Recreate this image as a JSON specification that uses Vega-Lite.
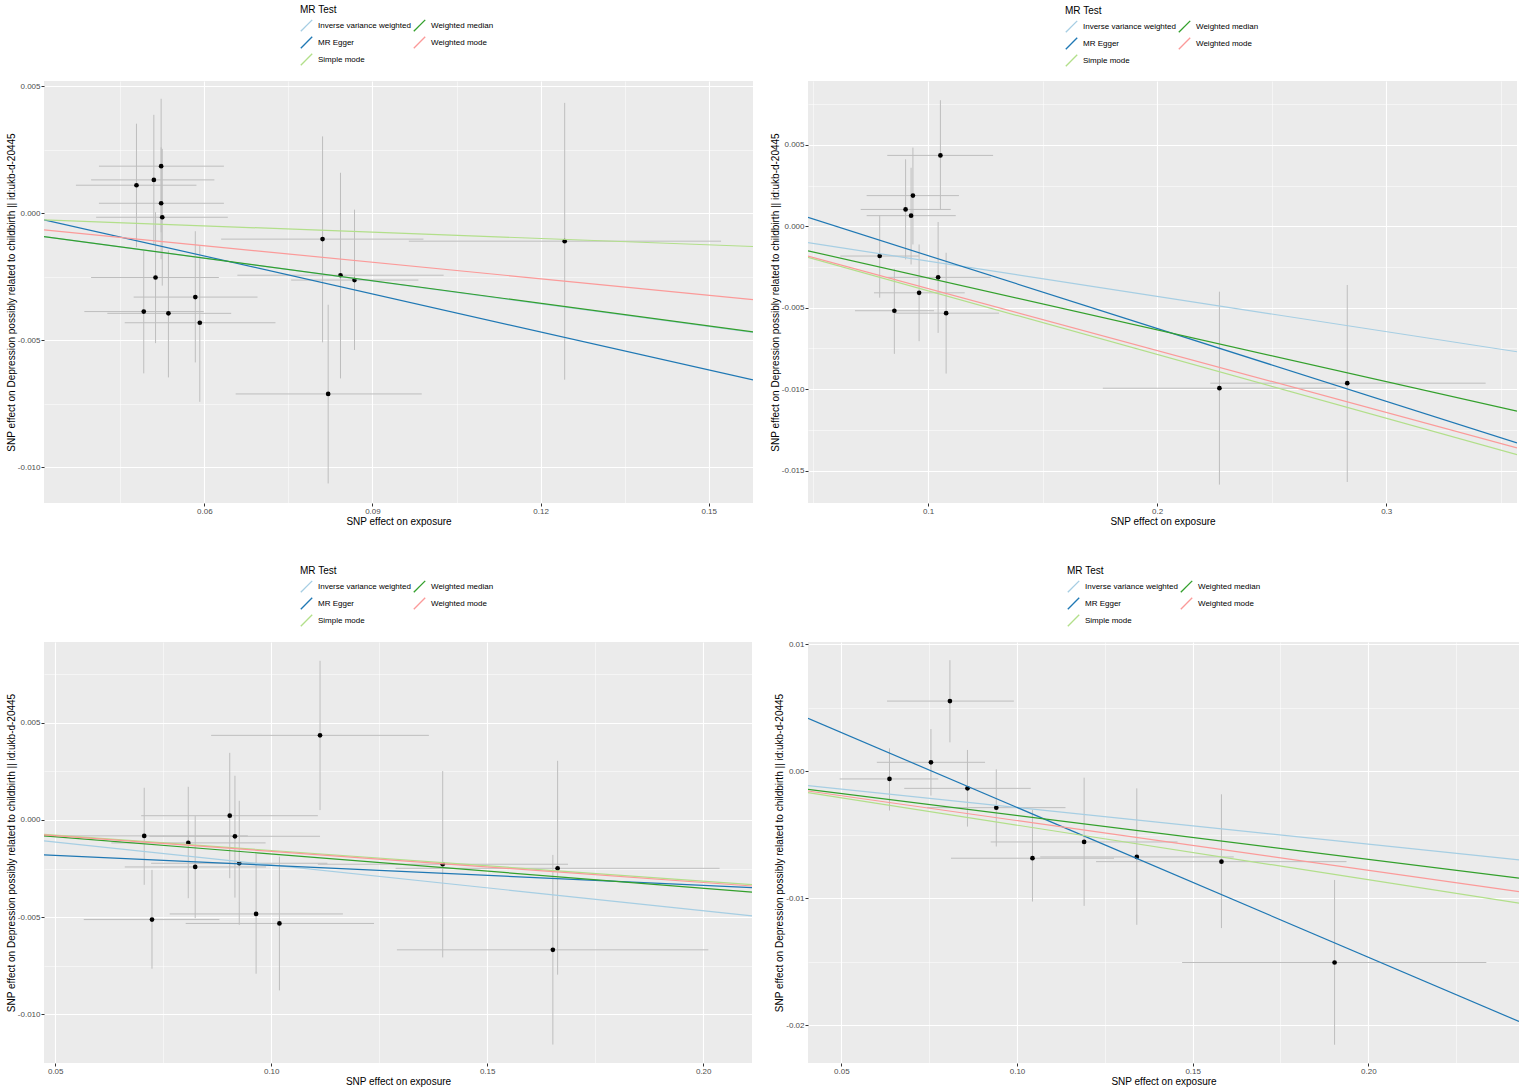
{
  "$schema": "https://vega.github.io/schema/vega-lite/v6.json",
  "background": "white",
  "padding": {"left": 6, "top": 5, "right": 0, "bottom": 2},
  "datasets": {
    "p1": [
      {"bx": 0.0479, "by": 0.00110, "bxlo": 0.0371, "bxhi": 0.0586, "bylo": -0.00134, "byhi": 0.00352},
      {"bx": 0.0510, "by": 0.00131, "bxlo": 0.0398, "bxhi": 0.0618, "bylo": -0.00125, "byhi": 0.00387},
      {"bx": 0.0523, "by": 0.00185, "bxlo": 0.0412, "bxhi": 0.0635, "bylo": -0.00075, "byhi": 0.00450},
      {"bx": 0.0523, "by": 0.00039, "bxlo": 0.0412, "bxhi": 0.0635, "bylo": -0.00181, "byhi": 0.00259},
      {"bx": 0.0525, "by": -0.00016, "bxlo": 0.0407, "bxhi": 0.0642, "bylo": -0.00285, "byhi": 0.00253},
      {"bx": 0.0513, "by": -0.00253, "bxlo": 0.0398, "bxhi": 0.0626, "bylo": -0.00511, "byhi": 0.00004},
      {"bx": 0.0492, "by": -0.00387, "bxlo": 0.0386, "bxhi": 0.0599, "bylo": -0.00630, "byhi": -0.00147},
      {"bx": 0.0536, "by": -0.00394, "bxlo": 0.0427, "bxhi": 0.0648, "bylo": -0.00646, "byhi": -0.00147},
      {"bx": 0.0584, "by": -0.00330, "bxlo": 0.0474, "bxhi": 0.0695, "bylo": -0.00587, "byhi": -0.00071},
      {"bx": 0.0592, "by": -0.00431, "bxlo": 0.0458, "bxhi": 0.0727, "bylo": -0.00742, "byhi": -0.00127},
      {"bx": 0.0811, "by": -0.00102, "bxlo": 0.0630, "bxhi": 0.0991, "bylo": -0.00508, "byhi": 0.00302},
      {"bx": 0.0843, "by": -0.00244, "bxlo": 0.0659, "bxhi": 0.1027, "bylo": -0.00650, "byhi": 0.00159},
      {"bx": 0.0868, "by": -0.00263, "bxlo": 0.0755, "bxhi": 0.0982, "bylo": -0.00538, "byhi": 0.00014},
      {"bx": 0.0821, "by": -0.00711, "bxlo": 0.0656, "bxhi": 0.0988, "bylo": -0.01063, "byhi": -0.00360},
      {"bx": 0.1243, "by": -0.00110, "bxlo": 0.0965, "bxhi": 0.1522, "bylo": -0.00655, "byhi": 0.00434}
    ],
    "l1": [
      {"method": "Inverse variance weighted", "x1": 0.0314, "x2": 0.1579, "y1": -0.00092, "y2": -0.00469},
      {"method": "MR Egger", "x1": 0.0314, "x2": 0.1579, "y1": -0.00026, "y2": -0.00656},
      {"method": "Simple mode", "x1": 0.0314, "x2": 0.1579, "y1": -0.00026, "y2": -0.00131},
      {"method": "Weighted median", "x1": 0.0314, "x2": 0.1579, "y1": -0.00092, "y2": -0.00467},
      {"method": "Weighted mode", "x1": 0.0314, "x2": 0.1579, "y1": -0.00066, "y2": -0.00340}
    ],
    "p2": [
      {"bx": 0.1054, "by": 0.00436, "bxlo": 0.0822, "bxhi": 0.1284, "bylo": 0.00104, "byhi": 0.00775},
      {"bx": 0.0934, "by": 0.00189, "bxlo": 0.0732, "bxhi": 0.1135, "bylo": -0.00111, "byhi": 0.00484},
      {"bx": 0.0902, "by": 0.00104, "bxlo": 0.0706, "bxhi": 0.1099, "bylo": -0.00203, "byhi": 0.00412},
      {"bx": 0.0926, "by": 0.00066, "bxlo": 0.0732, "bxhi": 0.1121, "bylo": -0.00234, "byhi": 0.00360},
      {"bx": 0.0789, "by": -0.00182, "bxlo": 0.0617, "bxhi": 0.0961, "bylo": -0.00438, "byhi": 0.00068},
      {"bx": 0.1044, "by": -0.00313, "bxlo": 0.0822, "bxhi": 0.1274, "bylo": -0.00654, "byhi": 0.00027},
      {"bx": 0.0961, "by": -0.00408, "bxlo": 0.0764, "bxhi": 0.1160, "bylo": -0.00705, "byhi": -0.00111},
      {"bx": 0.0853, "by": -0.00518, "bxlo": 0.0681, "bxhi": 0.1026, "bylo": -0.00783, "byhi": -0.00260},
      {"bx": 0.1079, "by": -0.00533, "bxlo": 0.0851, "bxhi": 0.1310, "bylo": -0.00904, "byhi": -0.00162},
      {"bx": 0.2272, "by": -0.00994, "bxlo": 0.1763, "bxhi": 0.2782, "bylo": -0.01586, "byhi": -0.00401},
      {"bx": 0.2830, "by": -0.00963, "bxlo": 0.2232, "bxhi": 0.3434, "bylo": -0.01570, "byhi": -0.00360}
    ],
    "l2": [
      {"method": "Inverse variance weighted", "x1": 0.0476, "x2": 0.3571, "y1": -0.00100, "y2": -0.00770},
      {"method": "MR Egger", "x1": 0.0476, "x2": 0.3571, "y1": 0.00055, "y2": -0.01330},
      {"method": "Simple mode", "x1": 0.0476, "x2": 0.3571, "y1": -0.00190, "y2": -0.01402},
      {"method": "Weighted median", "x1": 0.0476, "x2": 0.3571, "y1": -0.00150, "y2": -0.01135},
      {"method": "Weighted mode", "x1": 0.0476, "x2": 0.3571, "y1": -0.00182, "y2": -0.01360}
    ],
    "p3": [
      {"bx": 0.1113, "by": 0.00436, "bxlo": 0.0861, "bxhi": 0.1365, "bylo": 0.00051, "byhi": 0.00820},
      {"bx": 0.0904, "by": 0.00022, "bxlo": 0.0699, "bxhi": 0.1108, "bylo": -0.00300, "byhi": 0.00346},
      {"bx": 0.0706, "by": -0.00082, "bxlo": 0.0466, "bxhi": 0.0946, "bylo": -0.00334, "byhi": 0.00166},
      {"bx": 0.0916, "by": -0.00084, "bxlo": 0.0718, "bxhi": 0.1113, "bylo": -0.00400, "byhi": 0.00228},
      {"bx": 0.0808, "by": -0.00118, "bxlo": 0.0630, "bxhi": 0.0987, "bylo": -0.00403, "byhi": 0.00171},
      {"bx": 0.0824, "by": -0.00242, "bxlo": 0.0661, "bxhi": 0.0988, "bylo": -0.00506, "byhi": 0.00020},
      {"bx": 0.0926, "by": -0.00223, "bxlo": 0.0722, "bxhi": 0.1130, "bylo": -0.00540, "byhi": 0.00099},
      {"bx": 0.0724, "by": -0.00513, "bxlo": 0.0566, "bxhi": 0.0880, "bylo": -0.00766, "byhi": -0.00257},
      {"bx": 0.0965, "by": -0.00484, "bxlo": 0.0765, "bxhi": 0.1166, "bylo": -0.00792, "byhi": -0.00175},
      {"bx": 0.1019, "by": -0.00533, "bxlo": 0.0802, "bxhi": 0.1238, "bylo": -0.00878, "byhi": -0.00189},
      {"bx": 0.1397, "by": -0.00228, "bxlo": 0.1108, "bxhi": 0.1687, "bylo": -0.00708, "byhi": 0.00252},
      {"bx": 0.1663, "by": -0.00249, "bxlo": 0.1288, "bxhi": 0.2038, "bylo": -0.00797, "byhi": 0.00305},
      {"bx": 0.1652, "by": -0.00669, "bxlo": 0.1291, "bxhi": 0.2012, "bylo": -0.01157, "byhi": -0.00180}
    ],
    "l3": [
      {"method": "Inverse variance weighted", "x1": 0.0474, "x2": 0.2113, "y1": -0.00108, "y2": -0.00494},
      {"method": "MR Egger", "x1": 0.0474, "x2": 0.2113, "y1": -0.00180, "y2": -0.00348},
      {"method": "Simple mode", "x1": 0.0474, "x2": 0.2113, "y1": -0.00074, "y2": -0.00333},
      {"method": "Weighted median", "x1": 0.0474, "x2": 0.2113, "y1": -0.00082, "y2": -0.00372},
      {"method": "Weighted mode", "x1": 0.0474, "x2": 0.2113, "y1": -0.00077, "y2": -0.00340}
    ],
    "p4": [
      {"bx": 0.0809, "by": 0.00553, "bxlo": 0.0630, "bxhi": 0.0991, "bylo": 0.00228, "byhi": 0.00875},
      {"bx": 0.0755, "by": 0.00071, "bxlo": 0.0601, "bxhi": 0.0909, "bylo": -0.00191, "byhi": 0.00333},
      {"bx": 0.0637, "by": -0.00060, "bxlo": 0.0495, "bxhi": 0.0776, "bylo": -0.00309, "byhi": 0.00181},
      {"bx": 0.0859, "by": -0.00134, "bxlo": 0.0679, "bxhi": 0.1039, "bylo": -0.00435, "byhi": 0.00168},
      {"bx": 0.0941, "by": -0.00286, "bxlo": 0.0744, "bxhi": 0.1138, "bylo": -0.00592, "byhi": 0.00016},
      {"bx": 0.1191, "by": -0.00556, "bxlo": 0.0925, "bxhi": 0.1457, "bylo": -0.01059, "byhi": -0.00050},
      {"bx": 0.1044, "by": -0.00684, "bxlo": 0.0812, "bxhi": 0.1276, "bylo": -0.01025, "byhi": -0.00304},
      {"bx": 0.1341, "by": -0.00674, "bxlo": 0.1066, "bxhi": 0.1617, "bylo": -0.01208, "byhi": -0.00134},
      {"bx": 0.1582, "by": -0.00711, "bxlo": 0.1225, "bxhi": 0.1938, "bylo": -0.01234, "byhi": -0.00181},
      {"bx": 0.1904, "by": -0.01505, "bxlo": 0.1470, "bxhi": 0.2336, "bylo": -0.02152, "byhi": -0.00855}
    ],
    "l4": [
      {"method": "Inverse variance weighted", "x1": 0.0405, "x2": 0.2429, "y1": -0.00113, "y2": -0.00697},
      {"method": "MR Egger", "x1": 0.0405, "x2": 0.2429, "y1": 0.00417, "y2": -0.01969},
      {"method": "Simple mode", "x1": 0.0405, "x2": 0.2429, "y1": -0.00168, "y2": -0.01038},
      {"method": "Weighted median", "x1": 0.0405, "x2": 0.2429, "y1": -0.00142, "y2": -0.00841},
      {"method": "Weighted mode", "x1": 0.0405, "x2": 0.2429, "y1": -0.00155, "y2": -0.00947}
    ]
  },
  "columns": 2,
  "bounds": "flush",
  "spacing": {"row": 139, "column": 55},
  "resolve": {"scale": {"color": "independent"}, "legend": {"color": "independent"}},
  "concat": [
    {
      "width": 709, "height": 422,
      "layer": [
        {"data": {"name": "p1"}, "mark": {"type": "rule", "color": "#BEBEBE", "strokeWidth": 1, "clip": true},
         "encoding": {
           "x": {"field": "bxlo", "type": "quantitative", "title": "SNP effect on exposure",
                 "scale": {"domain": [0.0314, 0.1579], "nice": false, "zero": false},
                 "axis": {"values": [0.045, 0.06, 0.075, 0.09, 0.105, 0.12, 0.135, 0.15], "format": ".2f",
                          "labelExpr": "indexof([0.06,0.09,0.12,0.15], datum.value) >= 0 ? replace(datum.label, '−', '-') : ''",
                          "gridWidth": {"condition": {"test": "indexof([0.06,0.09,0.12,0.15], datum.value) >= 0", "value": 1.1}, "value": 0.5},
                          "tickColor": {"condition": {"test": "indexof([0.06,0.09,0.12,0.15], datum.value) >= 0", "value": "#333333"}, "value": "transparent"}}},
           "x2": {"field": "bxhi"},
           "y": {"field": "by", "type": "quantitative", "title": "SNP effect on Depression possibly related to childbirth || id:ukb-d-20445",
                 "scale": {"domain": [-0.0114, 0.0052], "nice": false, "zero": false},
                 "axis": {"values": [0.005, 0.0025, 0, -0.0025, -0.005, -0.0075, -0.01], "format": ".3f",
                          "labelExpr": "indexof([0.005,0,-0.005,-0.01], datum.value) >= 0 ? replace(datum.label, '−', '-') : ''",
                          "gridWidth": {"condition": {"test": "indexof([0.005,0,-0.005,-0.01], datum.value) >= 0", "value": 1.1}, "value": 0.5},
                          "tickColor": {"condition": {"test": "indexof([0.005,0,-0.005,-0.01], datum.value) >= 0", "value": "#333333"}, "value": "transparent"}}}
         }},
        {"data": {"name": "p1"}, "mark": {"type": "rule", "color": "#BEBEBE", "strokeWidth": 1, "clip": true},
         "encoding": {
           "x": {"field": "bx", "type": "quantitative", "title": "SNP effect on exposure"},
           "y": {"field": "bylo", "type": "quantitative", "title": "SNP effect on Depression possibly related to childbirth || id:ukb-d-20445"},
           "y2": {"field": "byhi"}
         }},
        {"data": {"name": "p1"}, "mark": {"type": "circle", "color": "black", "size": 22, "opacity": 1},
         "encoding": {
           "x": {"field": "bx", "type": "quantitative", "title": "SNP effect on exposure"},
           "y": {"field": "by", "type": "quantitative", "title": "SNP effect on Depression possibly related to childbirth || id:ukb-d-20445"}
         }},
        {"data": {"name": "l1"}, "mark": {"type": "rule", "strokeWidth": 1.2, "clip": true},
         "encoding": {
           "x": {"field": "x1", "type": "quantitative", "title": "SNP effect on exposure"},
           "x2": {"field": "x2"},
           "y": {"field": "y1", "type": "quantitative", "title": "SNP effect on Depression possibly related to childbirth || id:ukb-d-20445"},
           "y2": {"field": "y2"},
           "color": {"field": "method", "type": "nominal",
                     "scale": {"domain": ["Inverse variance weighted", "Weighted median", "MR Egger", "Weighted mode", "Simple mode"],
                               "range": ["#a6cee3", "#33a02c", "#1f78b4", "#fb9a99", "#b2df8a"]},
                     "legend": {"title": "MR Test", "orient": "none", "legendX": 256, "legendY": -76, "columns": 2, "direction": "horizontal"}}
         }}
      ]
    },
    {
      "width": 709, "height": 422,
      "layer": [
        {"data": {"name": "p2"}, "mark": {"type": "rule", "color": "#BEBEBE", "strokeWidth": 1, "clip": true},
         "encoding": {
           "x": {"field": "bxlo", "type": "quantitative", "title": "SNP effect on exposure",
                 "scale": {"domain": [0.0476, 0.3571], "nice": false, "zero": false},
                 "axis": {"values": [0.05, 0.1, 0.15, 0.2, 0.25, 0.3, 0.35], "format": ".1f",
                          "labelExpr": "indexof([0.1,0.2,0.3], datum.value) >= 0 ? replace(datum.label, '−', '-') : ''",
                          "gridWidth": {"condition": {"test": "indexof([0.1,0.2,0.3], datum.value) >= 0", "value": 1.1}, "value": 0.5},
                          "tickColor": {"condition": {"test": "indexof([0.1,0.2,0.3], datum.value) >= 0", "value": "#333333"}, "value": "transparent"}}},
           "x2": {"field": "bxhi"},
           "y": {"field": "by", "type": "quantitative", "title": "SNP effect on Depression possibly related to childbirth || id:ukb-d-20445",
                 "scale": {"domain": [-0.01699, 0.00893], "nice": false, "zero": false},
                 "axis": {"values": [0.0075, 0.005, 0.0025, 0, -0.0025, -0.005, -0.0075, -0.01, -0.0125, -0.015], "format": ".3f",
                          "labelExpr": "indexof([0.005,0,-0.005,-0.01,-0.015], datum.value) >= 0 ? replace(datum.label, '−', '-') : ''",
                          "gridWidth": {"condition": {"test": "indexof([0.005,0,-0.005,-0.01,-0.015], datum.value) >= 0", "value": 1.1}, "value": 0.5},
                          "tickColor": {"condition": {"test": "indexof([0.005,0,-0.005,-0.01,-0.015], datum.value) >= 0", "value": "#333333"}, "value": "transparent"}}}
         }},
        {"data": {"name": "p2"}, "mark": {"type": "rule", "color": "#BEBEBE", "strokeWidth": 1, "clip": true},
         "encoding": {
           "x": {"field": "bx", "type": "quantitative", "title": "SNP effect on exposure"},
           "y": {"field": "bylo", "type": "quantitative", "title": "SNP effect on Depression possibly related to childbirth || id:ukb-d-20445"},
           "y2": {"field": "byhi"}
         }},
        {"data": {"name": "p2"}, "mark": {"type": "circle", "color": "black", "size": 22, "opacity": 1},
         "encoding": {
           "x": {"field": "bx", "type": "quantitative", "title": "SNP effect on exposure"},
           "y": {"field": "by", "type": "quantitative", "title": "SNP effect on Depression possibly related to childbirth || id:ukb-d-20445"}
         }},
        {"data": {"name": "l2"}, "mark": {"type": "rule", "strokeWidth": 1.2, "clip": true},
         "encoding": {
           "x": {"field": "x1", "type": "quantitative", "title": "SNP effect on exposure"},
           "x2": {"field": "x2"},
           "y": {"field": "y1", "type": "quantitative", "title": "SNP effect on Depression possibly related to childbirth || id:ukb-d-20445"},
           "y2": {"field": "y2"},
           "color": {"field": "method", "type": "nominal",
                     "scale": {"domain": ["Inverse variance weighted", "Weighted median", "MR Egger", "Weighted mode", "Simple mode"],
                               "range": ["#a6cee3", "#33a02c", "#1f78b4", "#fb9a99", "#b2df8a"]},
                     "legend": {"title": "MR Test", "orient": "none", "legendX": 257, "legendY": -75, "columns": 2, "direction": "horizontal"}}
         }}
      ]
    },
    {
      "width": 708, "height": 421,
      "layer": [
        {"data": {"name": "p3"}, "mark": {"type": "rule", "color": "#BEBEBE", "strokeWidth": 1, "clip": true},
         "encoding": {
           "x": {"field": "bxlo", "type": "quantitative", "title": "SNP effect on exposure",
                 "scale": {"domain": [0.0474, 0.2113], "nice": false, "zero": false},
                 "axis": {"values": [0.05, 0.075, 0.1, 0.125, 0.15, 0.175, 0.2], "format": ".2f",
                          "labelExpr": "indexof([0.05,0.1,0.15,0.2], datum.value) >= 0 ? replace(datum.label, '−', '-') : ''",
                          "gridWidth": {"condition": {"test": "indexof([0.05,0.1,0.15,0.2], datum.value) >= 0", "value": 1.1}, "value": 0.5},
                          "tickColor": {"condition": {"test": "indexof([0.05,0.1,0.15,0.2], datum.value) >= 0", "value": "#333333"}, "value": "transparent"}}},
           "x2": {"field": "bxhi"},
           "y": {"field": "by", "type": "quantitative", "title": "SNP effect on Depression possibly related to childbirth || id:ukb-d-20445",
                 "scale": {"domain": [-0.01252, 0.00917], "nice": false, "zero": false},
                 "axis": {"values": [0.0075, 0.005, 0.0025, 0, -0.0025, -0.005, -0.0075, -0.01, -0.0125], "format": ".3f",
                          "labelExpr": "indexof([0.005,0,-0.005,-0.01], datum.value) >= 0 ? replace(datum.label, '−', '-') : ''",
                          "gridWidth": {"condition": {"test": "indexof([0.005,0,-0.005,-0.01], datum.value) >= 0", "value": 1.1}, "value": 0.5},
                          "tickColor": {"condition": {"test": "indexof([0.005,0,-0.005,-0.01], datum.value) >= 0", "value": "#333333"}, "value": "transparent"}}}
         }},
        {"data": {"name": "p3"}, "mark": {"type": "rule", "color": "#BEBEBE", "strokeWidth": 1, "clip": true},
         "encoding": {
           "x": {"field": "bx", "type": "quantitative", "title": "SNP effect on exposure"},
           "y": {"field": "bylo", "type": "quantitative", "title": "SNP effect on Depression possibly related to childbirth || id:ukb-d-20445"},
           "y2": {"field": "byhi"}
         }},
        {"data": {"name": "p3"}, "mark": {"type": "circle", "color": "black", "size": 22, "opacity": 1},
         "encoding": {
           "x": {"field": "bx", "type": "quantitative", "title": "SNP effect on exposure"},
           "y": {"field": "by", "type": "quantitative", "title": "SNP effect on Depression possibly related to childbirth || id:ukb-d-20445"}
         }},
        {"data": {"name": "l3"}, "mark": {"type": "rule", "strokeWidth": 1.2, "clip": true},
         "encoding": {
           "x": {"field": "x1", "type": "quantitative", "title": "SNP effect on exposure"},
           "x2": {"field": "x2"},
           "y": {"field": "y1", "type": "quantitative", "title": "SNP effect on Depression possibly related to childbirth || id:ukb-d-20445"},
           "y2": {"field": "y2"},
           "color": {"field": "method", "type": "nominal",
                     "scale": {"domain": ["Inverse variance weighted", "Weighted median", "MR Egger", "Weighted mode", "Simple mode"],
                               "range": ["#a6cee3", "#33a02c", "#1f78b4", "#fb9a99", "#b2df8a"]},
                     "legend": {"title": "MR Test", "orient": "none", "legendX": 256, "legendY": -76, "columns": 2, "direction": "horizontal"}}
         }}
      ]
    },
    {
      "width": 711, "height": 421,
      "layer": [
        {"data": {"name": "p4"}, "mark": {"type": "rule", "color": "#BEBEBE", "strokeWidth": 1, "clip": true},
         "encoding": {
           "x": {"field": "bxlo", "type": "quantitative", "title": "SNP effect on exposure",
                 "scale": {"domain": [0.0405, 0.2429], "nice": false, "zero": false},
                 "axis": {"values": [0.05, 0.075, 0.1, 0.125, 0.15, 0.175, 0.2, 0.225], "format": ".2f",
                          "labelExpr": "indexof([0.05,0.1,0.15,0.2], datum.value) >= 0 ? replace(datum.label, '−', '-') : ''",
                          "gridWidth": {"condition": {"test": "indexof([0.05,0.1,0.15,0.2], datum.value) >= 0", "value": 1.1}, "value": 0.5},
                          "tickColor": {"condition": {"test": "indexof([0.05,0.1,0.15,0.2], datum.value) >= 0", "value": "#333333"}, "value": "transparent"}}},
           "x2": {"field": "bxhi"},
           "y": {"field": "by", "type": "quantitative", "title": "SNP effect on Depression possibly related to childbirth || id:ukb-d-20445",
                 "scale": {"domain": [-0.02296, 0.01018], "nice": false, "zero": false},
                 "axis": {"values": [0.01, 0.005, 0, -0.005, -0.01, -0.015, -0.02], "format": ".2f",
                          "labelExpr": "indexof([0.01,0,-0.01,-0.02], datum.value) >= 0 ? replace(datum.label, '−', '-') : ''",
                          "gridWidth": {"condition": {"test": "indexof([0.01,0,-0.01,-0.02], datum.value) >= 0", "value": 1.1}, "value": 0.5},
                          "tickColor": {"condition": {"test": "indexof([0.01,0,-0.01,-0.02], datum.value) >= 0", "value": "#333333"}, "value": "transparent"}}}
         }},
        {"data": {"name": "p4"}, "mark": {"type": "rule", "color": "#BEBEBE", "strokeWidth": 1, "clip": true},
         "encoding": {
           "x": {"field": "bx", "type": "quantitative", "title": "SNP effect on exposure"},
           "y": {"field": "bylo", "type": "quantitative", "title": "SNP effect on Depression possibly related to childbirth || id:ukb-d-20445"},
           "y2": {"field": "byhi"}
         }},
        {"data": {"name": "p4"}, "mark": {"type": "circle", "color": "black", "size": 22, "opacity": 1},
         "encoding": {
           "x": {"field": "bx", "type": "quantitative", "title": "SNP effect on exposure"},
           "y": {"field": "by", "type": "quantitative", "title": "SNP effect on Depression possibly related to childbirth || id:ukb-d-20445"}
         }},
        {"data": {"name": "l4"}, "mark": {"type": "rule", "strokeWidth": 1.2, "clip": true},
         "encoding": {
           "x": {"field": "x1", "type": "quantitative", "title": "SNP effect on exposure"},
           "x2": {"field": "x2"},
           "y": {"field": "y1", "type": "quantitative", "title": "SNP effect on Depression possibly related to childbirth || id:ukb-d-20445"},
           "y2": {"field": "y2"},
           "color": {"field": "method", "type": "nominal",
                     "scale": {"domain": ["Inverse variance weighted", "Weighted median", "MR Egger", "Weighted mode", "Simple mode"],
                               "range": ["#a6cee3", "#33a02c", "#1f78b4", "#fb9a99", "#b2df8a"]},
                     "legend": {"title": "MR Test", "orient": "none", "legendX": 259, "legendY": -76, "columns": 2, "direction": "horizontal"}}
         }}
      ]
    }
  ],
  "config": {
    "font": "Liberation Sans",
    "view": {"fill": "#EBEBEB", "stroke": null},
    "axis": {
      "gridColor": "white", "domain": false, "tickSize": 3, "tickWidth": 1,
      "labelColor": "#4D4D4D", "labelFontSize": 8, "labelPadding": 1,
      "titleFontSize": 10, "titleFontWeight": "normal", "titleColor": "black", "titlePadding": 1
    },
    "legend": {
      "titleFontSize": 10, "titleFontWeight": "normal", "titleColor": "black", "titlePadding": 4,
      "labelFontSize": 8, "labelColor": "black", "labelOffset": 5,
      "symbolType": "M-1,1L1,-1", "symbolSize": 130, "symbolStrokeWidth": 1.3,
      "rowPadding": 0, "columnPadding": 0
    }
  }
}
